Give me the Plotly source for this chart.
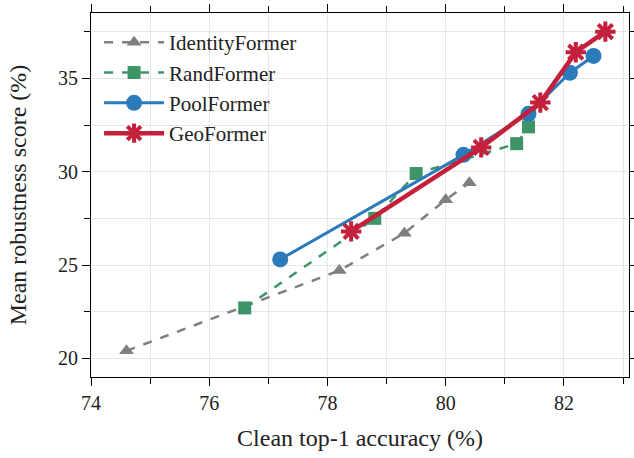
import plotly.graph_objects as go

# Data
identity_x = [74.6, 78.2, 79.3, 80.0, 80.4]
identity_y = [20.4, 24.7, 26.7, 28.5, 29.4]
rand_x = [76.6, 78.8, 79.5, 81.2, 81.4]
rand_y = [22.7, 27.5, 29.9, 31.5, 32.4]
pool_x = [77.2, 80.3, 81.4, 82.1, 82.5]
pool_y = [25.3, 30.9, 33.1, 35.3, 36.2]
geo_x = [78.4, 80.6, 81.6, 82.2, 82.7]
geo_y = [26.8, 31.3, 33.7, 36.4, 37.5]

FONT = "Liberation Serif"

fig = go.Figure()
fig.add_trace(go.Scatter(x=identity_x, y=identity_y, name="IdentityFormer", mode="lines+markers",
                         line=dict(color="#7f7f7f", width=2.5, dash="dash"),
                         marker=dict(symbol="triangle-up", size=13, color="#7f7f7f")))
fig.add_trace(go.Scatter(x=rand_x, y=rand_y, name="RandFormer", mode="lines+markers",
                         line=dict(color="#3d9567", width=2.5, dash="dash"),
                         marker=dict(symbol="square", size=13, color="#3d9567")))
fig.add_trace(go.Scatter(x=pool_x, y=pool_y, name="PoolFormer", mode="lines+markers",
                         line=dict(color="#2b7bba", width=3),
                         marker=dict(symbol="circle", size=16, color="#2b7bba")))
fig.add_trace(go.Scatter(x=geo_x, y=geo_y, name="GeoFormer", mode="lines+markers",
                         line=dict(color="#c4203c", width=4.5),
                         marker=dict(symbol="asterisk", size=17, color="#c4203c",
                                     line=dict(color="#c4203c", width=4))))

axis_common = dict(showline=True, linecolor="black", linewidth=1, mirror="allticks",
                   ticks="outside", ticklen=8, tickcolor="black", tickwidth=1,
                   showgrid=True, gridcolor="#e6e6e6", gridwidth=1, zeroline=False,
                   automargin=False,
                   tickfont=dict(family=FONT, size=20, color="#222"))

fig.update_xaxes(range=[74, 83.1], dtick=2, tick0=74,
                 minor=dict(dtick=1, tick0=74, ticks="outside", ticklen=6, tickcolor="black", showgrid=True, gridcolor="#e6e6e6"),
                 title=dict(text="Clean top-1 accuracy (%)", font=dict(family=FONT, size=24, color="#222"), standoff=16),
                 **axis_common)
fig.update_yaxes(range=[19, 38.5], dtick=5, tick0=20,
                 minor=dict(dtick=2.5, tick0=20, ticks="outside", ticklen=6, tickcolor="black", showgrid=True, gridcolor="#e6e6e6"),
                 title=dict(text="Mean robustness score (%)", font=dict(family=FONT, size=24, color="#222"), standoff=24),
                 **axis_common)

fig.update_layout(
    width=634, height=458,
    margin=dict(l=91, r=5, t=13, b=81),
    paper_bgcolor="white", plot_bgcolor="white",
    legend=dict(x=0.015, y=0.975, xanchor="left", yanchor="top", bgcolor="rgba(0,0,0,0)",
                font=dict(family=FONT, size=21, color="#222"), itemwidth=60, tracegroupgap=0),
    showlegend=True,
)

fig.write_html("out.html", config={"displayModeBar": False},
               post_script="document.body.style.margin='0';document.body.style.padding='0';")
